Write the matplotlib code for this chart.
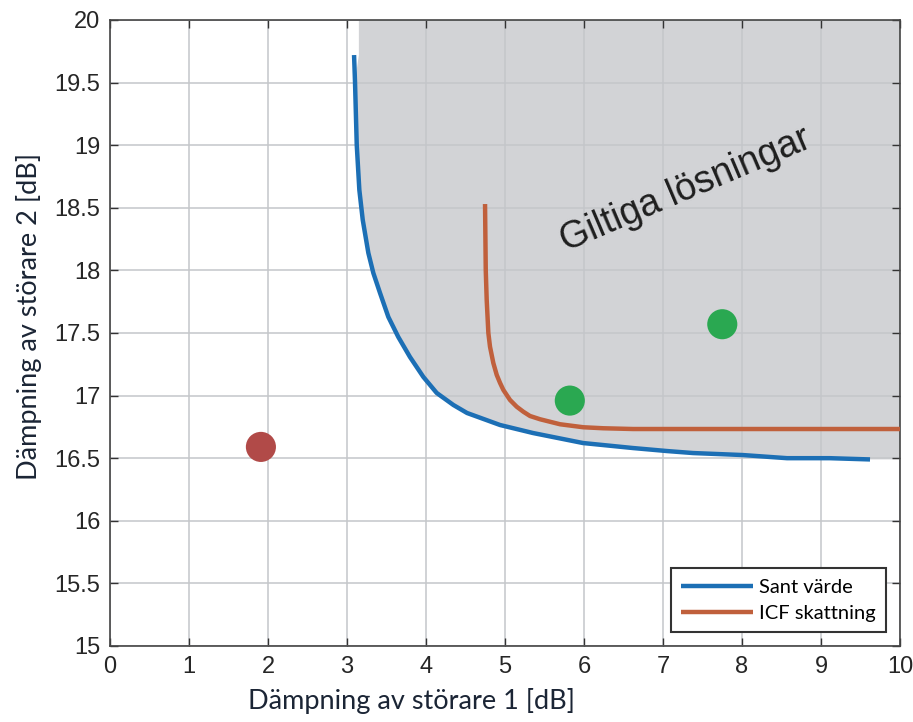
import matplotlib
matplotlib.use("Agg")
import matplotlib.pyplot as plt
from matplotlib.patches import Polygon

# Data
blue_x = [3.089, 3.101, 3.123, 3.156, 3.199, 3.270, 3.333, 3.418, 3.523, 3.649, 3.797, 3.966,
          4.135, 4.346, 4.519, 4.937, 5.354, 5.987, 6.620, 7.051, 7.380, 8.010, 8.570, 9.110, 9.620]
blue_y = [19.720, 19.507, 19.002, 18.642, 18.403, 18.139, 17.979, 17.819, 17.628, 17.468, 17.308, 17.149,
          17.021, 16.925, 16.861, 16.765, 16.701, 16.621, 16.581, 16.557, 16.541, 16.525, 16.500, 16.500, 16.490]

red_x = [4.747, 4.756, 4.768, 4.789, 4.810, 4.852, 4.895, 4.937, 4.979, 5.063, 5.148, 5.232,
         5.316, 5.443, 5.696, 5.991, 6.244, 6.620, 10.0]
red_y = [18.530, 18.003, 17.764, 17.500, 17.390, 17.260, 17.165, 17.101, 17.045, 16.965, 16.911, 16.871,
         16.837, 16.811, 16.771, 16.747, 16.739, 16.733, 16.733]

green_pts_x = [5.82, 7.75]
green_pts_y = [16.96, 17.57]
red_pt_x = [1.91]
red_pt_y = [16.59]

region_left = 3.15
region_right_y = 16.49

xticks = list(range(0, 11))
yticks = [15, 15.5, 16, 16.5, 17, 17.5, 18, 18.5, 19, 19.5, 20]
ytick_labels = ["15", "15.5", "16", "16.5", "17", "17.5", "18", "18.5", "19", "19.5", "20"]

fig = plt.figure(figsize=(9.13, 7.22), dpi=100)
ax = fig.add_axes([0.1205, 0.1053, 0.8653, 0.8670])

# shaded valid-solution region
poly_pts = [(region_left, 20), (region_left, blue_y[0])] + list(zip(blue_x[1:], blue_y[1:])) + \
           [(10, region_right_y), (10, 20)]
ax.add_patch(Polygon(poly_pts, closed=True, facecolor="#d2d3d6", edgecolor="none", zorder=0))

ax.plot(blue_x, blue_y, color="#1c6fb5", lw=3.2, label="Sant värde", zorder=3,
        solid_capstyle="butt", solid_joinstyle="round")
ax.plot(red_x, red_y, color="#c0603c", lw=3.2, label="ICF skattning", zorder=3,
        solid_capstyle="butt", solid_joinstyle="round")

ax.scatter(green_pts_x, green_pts_y, s=470, color="#2aa851", zorder=4, edgecolors="none")
ax.scatter(red_pt_x, red_pt_y, s=470, color="#b14a48", zorder=4, edgecolors="none")

ax.text(7.28, 18.64, "Giltiga lösningar", rotation=23, fontsize=27, family="Liberation Sans",
        color="#1e1e1e", ha="center", va="center", zorder=5, rotation_mode="anchor")

ax.set_xlim(0, 10)
ax.set_ylim(15, 20)
ax.set_xticks(xticks)
ax.set_yticks(yticks)
ax.set_yticklabels(ytick_labels)
ax.grid(True, color="#c4c6ca", lw=1.1, zorder=1)
for gl in ax.get_xgridlines() + ax.get_ygridlines():
    gl.set_zorder(1)
ax.tick_params(direction="in", length=6, width=1, top=True, right=True, colors="#333333",
               labelsize=17, pad=7)
for lab in ax.get_xticklabels() + ax.get_yticklabels():
    lab.set_family("Liberation Sans")
    lab.set_color("#262626")
for sp in ax.spines.values():
    sp.set_color("#444444")
    sp.set_linewidth(1.2)

ax.set_xlabel("Dämpning av störare 1 [dB]", fontsize=19.5, family="Lato", color="#1b2535")
ax.set_ylabel("Dämpning av störare 2 [dB]", fontsize=19.5, family="Lato", color="#1b2535")
ax.xaxis.set_label_coords(0.382, -0.067)
ax.yaxis.set_label_coords(-0.086, 0.527)

leg = ax.legend(loc="lower right", prop={"family": "Lato", "size": 14.5},
                frameon=True, fancybox=False, edgecolor="#333333", handlelength=3.6,
                handletextpad=0.3, borderaxespad=0.7, borderpad=0.5, framealpha=1,
                labelspacing=0.45)
leg.get_frame().set_linewidth(1.5)
for line in leg.get_lines():
    line.set_linewidth(3.2)

fig.savefig("out.png", dpi=100)
